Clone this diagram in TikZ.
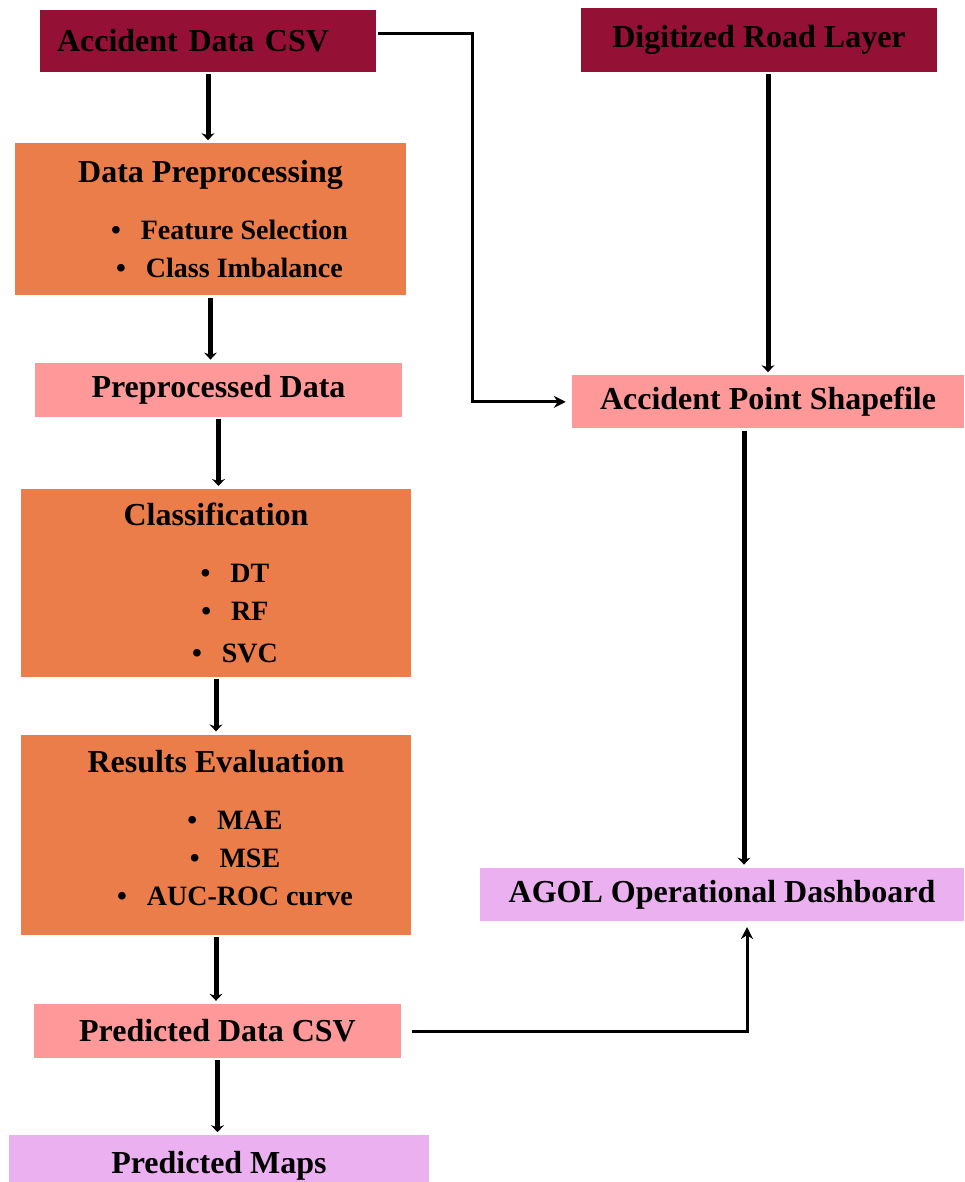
\documentclass[tikz,border=0pt]{standalone}
\usepackage{fontspec}
\setmainfont{Liberation Serif}
\usetikzlibrary{arrows.meta,positioning}
\definecolor{srcred}{HTML}{941035}
\definecolor{procorange}{HTML}{EB7D4B}
\definecolor{datapink}{HTML}{FF9999}
\definecolor{outviolet}{HTML}{EBB0F0}
\newcommand{\bitem}[1]{\hspace*{38pt}\textbullet\hspace{20pt}#1}
\newcommand{\btitle}[1]{{\fontsize{32}{38}\selectfont #1}\\[19pt]}

\begin{document}
\begin{tikzpicture}[
    x=1pt, y=-1pt,
    every node/.style={rectangle, inner sep=0pt, align=center, font=\fontsize{32}{38}\selectfont\bfseries},
    source/.style={fill=srcred},
    process/.style={fill=procorange, font=\fontsize{28}{38}\selectfont\bfseries},
    dataset/.style={fill=datapink},
    output/.style={fill=outviolet},
    flow/.style={-{Stealth[length=7pt, width=13pt]}, line width=5pt, shorten <=2pt, shorten >=3pt},
    link/.style={-{Stealth[length=12pt, width=12pt]}, line width=3pt, shorten >=6pt}
]
    \useasboundingbox (0,0) rectangle (964,1182);

    % left column
    \node[source, text width=302pt, align=left, inner xsep=17pt, minimum height=62pt] (csv) at (208,41) {Accident Data CSV};
    \node[process, minimum width=391pt, minimum height=152pt, below=71pt of csv, xshift=2.5pt] (prep)
        {\btitle{Data Preprocessing}\bitem{Feature Selection}\\\bitem{Class Imbalance}};
    \node[dataset, minimum width=367pt, minimum height=54pt, below=67pt of prep, xshift=8pt] (ppd) {Preprocessed Data};
    \node[process, minimum width=390pt, minimum height=188pt, below=72pt of ppd, xshift=-2.5pt] (cls)
        {\btitle{Classification}\bitem{DT}\\\bitem{RF}\\[4pt]\bitem{SVC}};
    \node[process, minimum width=390pt, minimum height=200pt, below=57pt of cls] (res)
        {\btitle{Results Evaluation}\bitem{MAE}\\\bitem{MSE}\\\bitem{AUC-ROC curve\rule[-13pt]{0pt}{1pt}}};
    \node[dataset, minimum width=367pt, minimum height=54pt, below=69pt of res, xshift=1.5pt] (pcsv) {Predicted Data CSV};
    \node[output, minimum width=420pt, minimum height=60pt, below=77pt of pcsv, xshift=1.5pt] (maps) {Predicted Maps};

    % right column
    \node[source, minimum width=356pt, minimum height=64pt] (road) at (759,40) {Digitized Road Layer};
    \node[dataset, minimum width=392pt, minimum height=53pt, below=303pt of road, xshift=9pt] (shp) {Accident Point Shapefile};
    \node[output, minimum width=484pt, minimum height=53pt, below=439pt of shp, xshift=-46pt] (agol) {AGOL Operational Dashboard};

    \draw[flow] (csv.south) -- (csv.south |- prep.north);
    \draw[flow] (prep.south) -- (prep.south |- ppd.north);
    \draw[flow] (ppd.south) -- (ppd.south |- cls.north);
    \draw[flow] (cls.south) -- (cls.south |- res.north);
    \draw[flow] (res.south) -- (res.south |- pcsv.north);
    \draw[flow] (pcsv.south) -- (pcsv.south |- maps.north);
    \draw[flow] (road.south -| shp.north) -- (shp.north);
    \draw[flow] ([xshift=-24pt]shp.south) -- ([xshift=-24pt]shp.south |- agol.north);
    \draw[link, shorten <=2pt] ([yshift=7pt]csv.east) -- ++(96,0) |- (shp.west);
    \draw[link, shorten <=11pt] (pcsv.east) -| ([xshift=25pt]agol.south);
\end{tikzpicture}
\end{document}
